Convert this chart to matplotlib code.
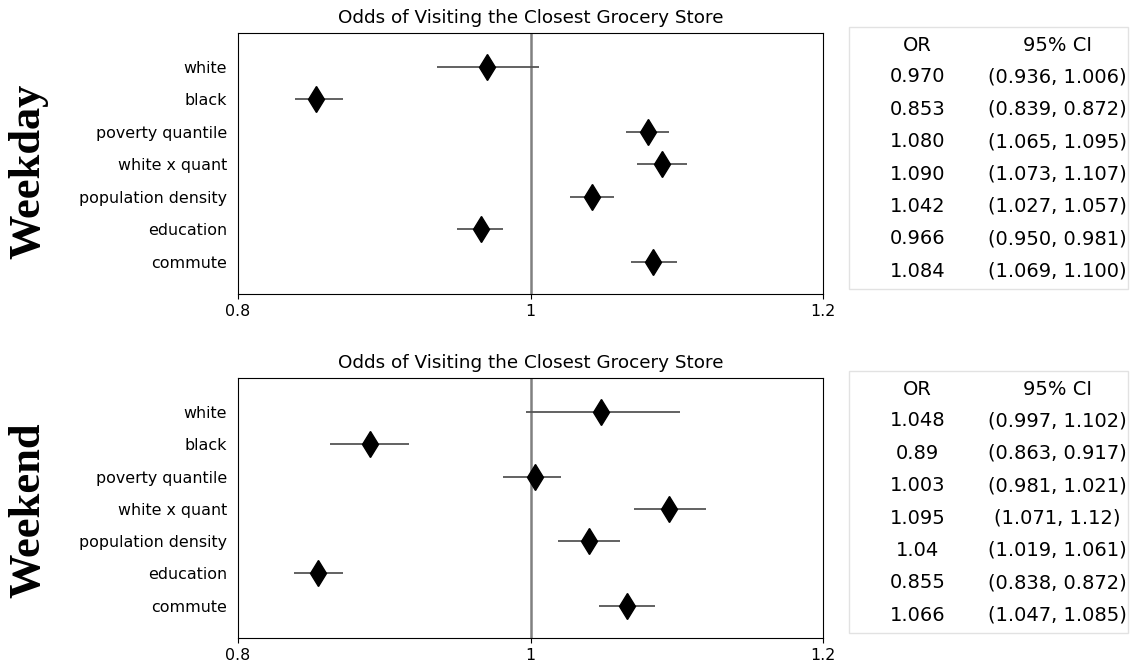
import matplotlib
matplotlib.use("Agg")
import matplotlib.pyplot as plt
from matplotlib.patches import Rectangle

# Predictors (top to bottom)
variables = ["white", "black", "poverty quantile", "white x quant",
             "population density", "education", "commute"]

# Weekday odds ratios and 95% confidence intervals
weekday_or = ["0.970", "0.853", "1.080", "1.090", "1.042", "0.966", "1.084"]
weekday_lo = ["0.936", "0.839", "1.065", "1.073", "1.027", "0.950", "1.069"]
weekday_hi = ["1.006", "0.872", "1.095", "1.107", "1.057", "0.981", "1.100"]

# Weekend odds ratios and 95% confidence intervals
weekend_or = ["1.048", "0.89", "1.003", "1.095", "1.04", "0.855", "1.066"]
weekend_lo = ["0.997", "0.863", "0.981", "1.071", "1.019", "0.838", "1.047"]
weekend_hi = ["1.102", "0.917", "1.021", "1.12", "1.061", "0.872", "1.085"]

x_ticks = [0.8, 1.0, 1.2]
x_tick_labels = ["0.8", "1", "1.2"]
title = "Odds of Visiting the Closest Grocery Store"

W, H = 1131, 665
fig = plt.figure(figsize=(W / 100, H / 100), dpi=100)
fig.patch.set_facecolor("white")


def px_rect(left, top, right, bottom):
    return [left / W, 1 - bottom / H, (right - left) / W, (bottom - top) / H]


def forest(ax, or_txt, lo_txt, hi_txt):
    ors = [float(v) for v in or_txt]
    los = [float(v) for v in lo_txt]
    his = [float(v) for v in hi_txt]
    ys = list(range(len(variables)))
    ax.axvline(1.0, color="#808080", lw=1.8, zorder=1)
    ax.hlines(ys, los, his, color="#555555", lw=1.3, zorder=2)
    ax.plot(ors, ys, linestyle="none", marker="d", markersize=13.3,
            color="black", zorder=3)
    ax.set_xlim(0.8, 1.2)
    ax.set_ylim(7.0, -1.05)
    ax.set_xticks(x_ticks)
    ax.set_xticklabels(x_tick_labels, fontsize=11.4)
    ax.set_yticks(ys)
    ax.set_yticklabels(variables, fontsize=11.4)
    ax.tick_params(axis="y", length=0, pad=8)
    ax.set_title(title, fontsize=13.2, pad=7)


def table(box, or_txt, lo_txt, hi_txt):
    left, top, right, bottom = box
    tax = fig.add_axes(px_rect(left, top, right, bottom))
    tax.set_xlim(0, 1)
    tax.set_ylim(6.58, -1.51)
    tax.axis("off")
    tax.add_patch(Rectangle((0, 0), 1, 1, transform=tax.transAxes,
                            fill=False, edgecolor="#e2e2e2", lw=1.0,
                            clip_on=False))
    tax.text(0.246, -0.93, "OR", ha="center", va="center", fontsize=14)
    tax.text(0.746, -0.93, "95% CI", ha="center", va="center", fontsize=14)
    for i, (o, lo, hi) in enumerate(zip(or_txt, lo_txt, hi_txt)):
        tax.text(0.246, i + 0.03, o, ha="center", va="center", fontsize=14)
        tax.text(0.746, i + 0.03, f"({lo}, {hi})", ha="center",
                 va="center", fontsize=14)


ax_top = fig.add_axes(px_rect(238, 33, 823, 294))
forest(ax_top, weekday_or, weekday_lo, weekday_hi)
table((849, 27, 1128, 289), weekday_or, weekday_lo, weekday_hi)

ax_bot = fig.add_axes(px_rect(238, 378, 823, 638))
forest(ax_bot, weekend_or, weekend_lo, weekend_hi)
table((849, 371, 1128, 633), weekend_or, weekend_lo, weekend_hi)

serif = ["Liberation Serif", "DejaVu Serif"]
fig.text(28 / W, 1 - 171 / H, "Weekday", rotation=90, ha="center",
         va="center", fontsize=32, fontweight="bold", family=serif)
fig.text(28 / W, 1 - 510 / H, "Weekend", rotation=90, ha="center",
         va="center", fontsize=32, fontweight="bold", family=serif)

fig.savefig("out.png", dpi=100)
